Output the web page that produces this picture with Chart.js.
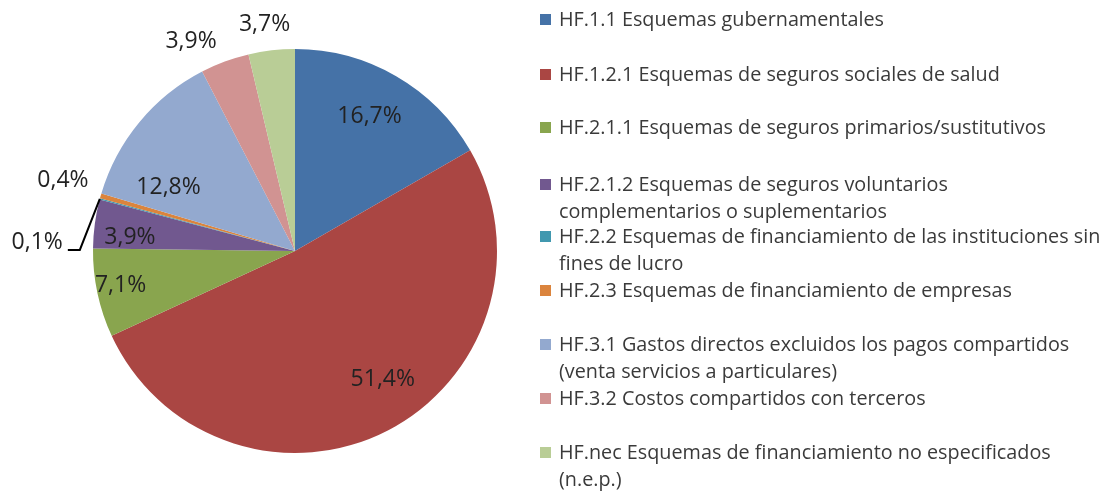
<!DOCTYPE html>
<html>
<head>
<meta charset="utf-8">
<script src="https://cdn.jsdelivr.net/npm/chart.js@4.4.1/dist/chart.umd.min.js"></script>
<style>
    html, body { margin: 0; padding: 0; background: #fff; }
    #wrap { position: relative; width: 1110px; height: 492px; }
    #leyenda { position: absolute; left: 0; top: 0; font-family: "Open Sans", sans-serif; font-size: 19.8px; color: #3a3a3a; }
    .item { position: absolute; left: 540px; white-space: nowrap; line-height: 26.5px; }
    .item .cuadro { position: absolute; left: 0; top: 8px; width: 11px; height: 11px; }
    .item .texto { position: absolute; left: 19px; top: 0; }
</style>
</head>
<body>
<div id="wrap">
    <canvas id="torta" width="1110" height="492"></canvas>
    <div id="leyenda"></div>
</div>
<script>
// datos del gráfico
const categorias = [
    ['HF.1.1 Esquemas gubernamentales'],
    ['HF.1.2.1 Esquemas de seguros sociales de salud'],
    ['HF.2.1.1 Esquemas de seguros primarios/sustitutivos'],
    ['HF.2.1.2 Esquemas de seguros voluntarios', 'complementarios o suplementarios'],
    ['HF.2.2 Esquemas de financiamiento de las instituciones sin', 'fines de lucro'],
    ['HF.2.3 Esquemas de financiamiento de empresas'],
    ['HF.3.1 Gastos directos excluidos los pagos compartidos', '(venta servicios a particulares)'],
    ['HF.3.2 Costos compartidos con terceros'],
    ['HF.nec Esquemas de financiamiento no especificados', '(n.e.p.)']
];
const porcentajes = [16.7, 51.4, 7.1, 3.9, 0.1, 0.4, 12.8, 3.9, 3.7];
const colores = ['#4572A7', '#AA4643', '#89A54E', '#71588F', '#4198AF', '#DB843D', '#93A9CF', '#D19392', '#B9CD96'];

// posición de cada etiqueta: [factor de radio, desvío angular en grados]
const posEtiquetas = [[0.76, -1], [0.77, -7], [0.88, 1], [0.82, -3], null, [1.2, 1], [0.70, -13], [1.16, -6], [1.13, -1]];
const yLeyenda = [6, 61, 114, 171, 223, 277, 331, 385, 439];

const fmt = v => v.toFixed(1).replace('.', ',') + '%';

// 1. LEYENDA HTML
document.getElementById('leyenda').innerHTML = categorias.map((c, i) => `
    <div class="item" style="top:${yLeyenda[i]}px">
        <div class="cuadro" style="background:${colores[i]}"></div>
        <div class="texto">${c.join('<br>')}</div>
    </div>`).join('');

// 2. ETIQUETAS DE DATOS
const etiquetas = {
    id: 'etiquetas',
    afterDatasetsDraw(chart) {
        const ctx = chart.ctx;
        const arcos = chart.getDatasetMeta(0).data;
        ctx.save();
        ctx.font = '23px "Open Sans", sans-serif';
        ctx.fillStyle = '#222';
        ctx.textBaseline = 'middle';
        arcos.forEach((a, i) => {
            const medio = (a.startAngle + a.endAngle) / 2;
            const p = posEtiquetas[i];
            if (!p) {
                // 0,1% con línea guía
                const x0 = a.x + Math.cos(medio) * a.outerRadius;
                const y0 = a.y + Math.sin(medio) * a.outerRadius;
                ctx.strokeStyle = '#000';
                ctx.lineWidth = 2;
                ctx.beginPath();
                ctx.moveTo(x0, y0);
                ctx.lineTo(x0 - 20, y0 + 51);
                ctx.lineTo(x0 - 32, y0 + 51);
                ctx.stroke();
                ctx.textAlign = 'right';
                ctx.fillText(fmt(porcentajes[i]), x0 - 37, y0 + 44);
                return;
            }
            const ang = medio + p[1] * Math.PI / 180;
            const r = a.outerRadius * p[0];
            ctx.textAlign = 'center';
            ctx.fillText(fmt(porcentajes[i]), a.x + Math.cos(ang) * r, a.y + Math.sin(ang) * r);
        });
        ctx.restore();
    }
};

new Chart(document.getElementById('torta'), {
    type: 'pie',
    data: {
        labels: categorias,
        datasets: [{
            data: porcentajes,
            backgroundColor: colores,
            borderWidth: 0
        }]
    },
    options: {
        responsive: false,
        animation: false,
        layout: { padding: { left: 93, right: 613, top: 49, bottom: 39 } },
        plugins: { legend: { display: false }, tooltip: { enabled: false } }
    },
    plugins: [etiquetas]
});
</script>
</body>
</html>
